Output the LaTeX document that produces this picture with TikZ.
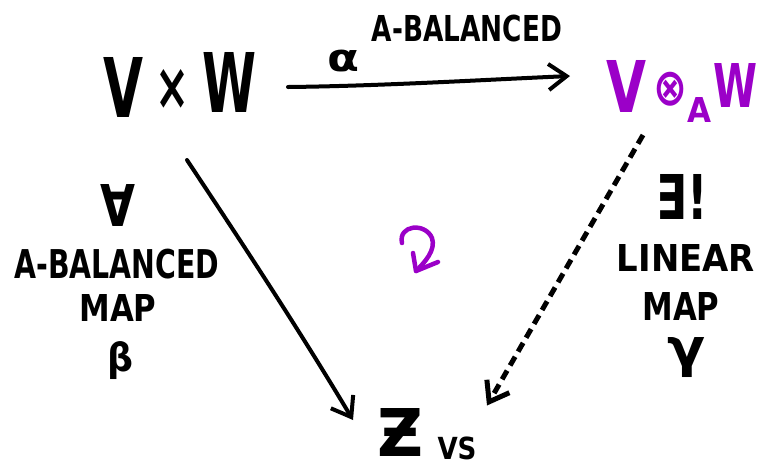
\documentclass[tikz,border=0pt]{standalone}
\usepackage{fontspec}
\usepackage{graphicx}
\setmainfont{DejaVu Sans}
\usetikzlibrary{arrows.meta,calc}
\definecolor{hwpurple}{RGB}{155,0,200}
\newcommand{\fitbox}[3]{\resizebox*{#1pt}{#2pt}{#3}}
\tikzset{
  lbl/.style={inner sep=0pt, outer sep=0pt, black, font=\bfseries},
  plbl/.style={inner sep=0pt, outer sep=0pt, hwpurple, font=\bfseries},
  hwline/.style={line width=4pt, line cap=round, line join=round},
  hwtip/.style={-{Straight Barb[length=18pt,width=26pt]}},
}
\begin{document}
\begin{tikzpicture}[x=1pt,y=-1pt]
\useasboundingbox (0,0) rectangle (759,467);
% top left V x W
\node[lbl] (vwV) at (124,87) {\fitbox{40}{60}{V}};
\node[lbl] (vwX) at (172,89) {\fitbox{34}{40}{×}};
\node[lbl] (vwW) at (230,82) {\fitbox{54}{60}{W}};
% top right V (x)_A W
\node[plbl] (vtwV) at (626,86) {\fitbox{40}{52}{V}};
\node[plbl] (vtwO) at (670,89) {\fitbox{34}{34}{⊗}};
\node[plbl] (vtwA) at (699,110) {\fitbox{24}{25}{A}};
\node[plbl] (vtwW) at (735,85) {\fitbox{44}{44}{W}};
% bottom Z_VS
\node[lbl] (z) at (400,432) {\fitbox{46}{48}{Ƶ}};
\node[lbl] (vs) at (457,448) {\fitbox{39}{23}{VS}};
% top labels
\node[lbl] (alpha) at (344,61) {\fitbox{32}{22}{α}};
\node[lbl] (topbal) at (467,28) {\fitbox{190}{27}{A-BALANCED}};
% left labels
\node[lbl] (forall) at (118,205) {\fitbox{35}{42}{∀}};
\node[lbl] (leftbal) at (117,264) {\fitbox{205}{30}{A-BALANCED}};
\node[lbl] (leftmap) at (118,308) {\fitbox{77}{27}{MAP}};
\node[lbl] (beta) at (120,361) {\fitbox{26}{38}{β}};
% right labels
\node[lbl] (exists) at (682,197) {\fitbox{51}{45}{∃!}};
\node[lbl] (linear) at (686,258) {\fitbox{138}{27}{LINEAR}};
\node[lbl] (rightmap) at (681,306) {\fitbox{77}{28}{MAP}};
\node[lbl] (gamma) at (686,358) {\fitbox{38}{40}{γ}};
% arrows
\draw[hwline,hwtip] ($(vwW.east)+(31,5)$) .. controls ($(vwW.east)+(123,4)$) and ($(vwW.east)+(223,-2)$) .. ($(vtwV.west)+(-36,-10)$);
\draw[hwline,hwtip] ($(vwX.south)+(15,51)$) .. controls ($(vwX.south)+(60,119)$) and ($(vwX.south)+(120,209)$) .. ($(z.north)+(-47,12)$);
\draw[line width=5pt, dash pattern=on 10pt off 6pt, hwtip] ($(vtwO.south)+(-27,29)$) -- ($(vs.north)+(30,-31)$);
% commutation symbol
\coordinate (cc) at (420,250);
\draw[hwpurple, line width=4.5pt, line cap=round, line join=round]
  ($(cc)+(-18,-7)$) .. controls ($(cc)+(-22,-25)$) and ($(cc)+(5,-28)$) .. ($(cc)+(12,-12)$)
  .. controls ($(cc)+(16,0)$) and ($(cc)+(5,12)$) .. ($(cc)+(-4,21)$);
\draw[hwpurple, line width=4.5pt, line cap=round, line join=round]
  ($(cc)+(-7,3)$) -- ($(cc)+(-4,21)$) -- ($(cc)+(18,12)$);
\end{tikzpicture}
\end{document}
